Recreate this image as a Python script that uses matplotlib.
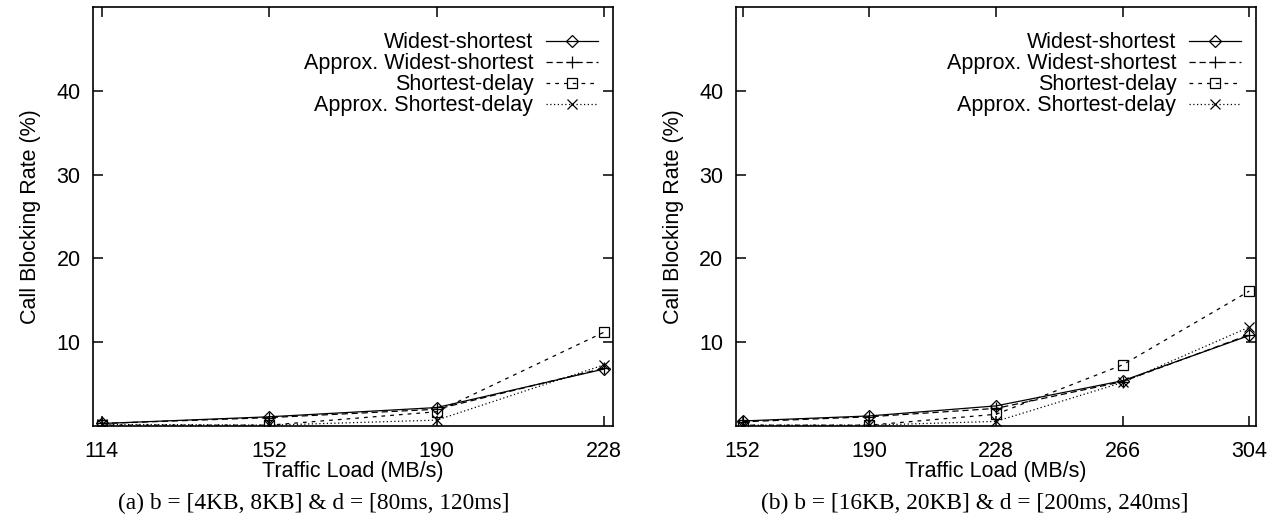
#!/usr/bin/env python3

import numpy as np
import matplotlib
matplotlib.use("Agg")
import matplotlib.pyplot as plt

plt.rcParams['font.family'] = ['Liberation Sans', 'DejaVu Sans']

# panel (a)
load_a = [114, 152, 190, 228]
ws_a = [0.3, 1.1, 2.2, 6.8]
aws_a = [0.3, 1.0, 2.0, 6.9]
sd_a = [0.1, 0.1, 1.7, 11.2]
asd_a = [0.2, 0.1, 0.7, 7.3]

# panel (b)
load_b = [152, 190, 228, 266, 304]
ws_b = [0.6, 1.2, 2.4, 5.4, 10.8]
aws_b = [0.5, 1.1, 2.1, 5.3, 10.9]
sd_b = [0.1, 0.1, 1.4, 7.3, 16.1]
asd_b = [0.1, 0.1, 0.55, 5.2, 11.8]

labels = ["Widest-shortest", "Approx. Widest-shortest",
          "Shortest-delay", "Approx. Shortest-delay"]
captions = ["(a) b = [4KB, 8KB] & d = [80ms, 120ms]",
            "(b) b = [16KB, 20KB] & d = [200ms, 240ms]"]

styles = [
	dict(marker='D', ls='-', ms=6.5),
	dict(marker='+', ls=(0, (5, 3)), ms=8),
	dict(marker='s', ls=(0, (3, 4)), ms=7.5),
	dict(marker='x', ls=(0, (1, 2)), ms=7.5),
]

FS = 15.5

fig = plt.figure(figsize=(12.83, 5.2), dpi=100)
axes = [
	fig.add_axes([93/1283, 1 - 426/520, 520/1283, 419/520]),
	fig.add_axes([736/1283, 1 - 426/520, 520/1283, 419/520]),
]

panels = [
	(load_a, [ws_a, aws_a, sd_a, asd_a], (112, 230)),
	(load_b, [ws_b, aws_b, sd_b, asd_b], (150, 306)),
]

for ax, (x, series, xl), cap in zip(axes, panels, captions) :
	for y, st, lab in zip(series, styles, labels) :
		ax.plot(x, y, color='black', lw=0.9, mfc='none', mew=0.9,
			label=lab, marker=st['marker'], ls=st['ls'], ms=st['ms'])
	ax.set_xlim(*xl)
	ax.set_ylim(0, 50)
	ax.set_xticks(x)
	ax.set_yticks([10, 20, 30, 40])
	ax.tick_params(direction='in', top=True, right=True, length=7,
		width=1.1, labelsize=FS)
	ax.tick_params(axis='x', pad=11)
	ax.tick_params(axis='y', pad=9)
	for s in ax.spines.values() :
		s.set_linewidth(1.2)
	ax.set_xlabel("Traffic Load (MB/s)", fontsize=FS, labelpad=-1)
	ax.set_ylabel("Call Blocking Rate (%)", fontsize=FS, labelpad=11)
	leg = ax.legend(loc='upper right', markerfirst=False, frameon=False,
		fontsize=FS, handlelength=2.4, handletextpad=0.6,
		labelspacing=0.0, borderaxespad=0.3,
		bbox_to_anchor=(1.0, 1.0 - 10/419))
	ax.annotate(cap, xy=(0, 0), xycoords='axes fraction',
		xytext=(18, -48), textcoords='offset points',
		ha='left', va='top', fontsize=16.8, family='Liberation Serif')

fig.savefig("out.png", dpi=100)
